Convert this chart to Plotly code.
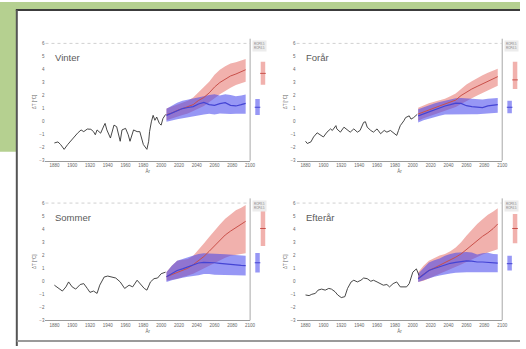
import plotly.graph_objects as go

W, H = 526, 349

# ---------------- data ----------------
seasons = ["Vinter", "Forår", "Sommer", "Efterår"]
x_ticks = [1880, 1900, 1920, 1940, 1960, 1980, 2000, 2020, 2040, 2060, 2080, 2100]
y_ticks = [-3, -2, -1, 0, 1, 2, 3, 4, 5, 6]

hist_years_vinter = [1880, 1884, 1887, 1891, 1895, 1898, 1902, 1906, 1910, 1913, 1917, 1921,
                     1924, 1926, 1928, 1932, 1936, 1937, 1939, 1943, 1947, 1950, 1954, 1956,
                     1960, 1963, 1965, 1969, 1973, 1976, 1980, 1984, 1986, 1987, 1989, 1991,
                     1993, 1995, 1998, 2000, 2002, 2005]
hist_vinter = [-1.64, -1.56, -1.76, -2.13, -1.76, -1.51, -1.26, -0.89, -0.64, -0.77, -0.57, -0.59,
               -0.77, -1.01, -0.64, -0.89, -0.27, -0.14, -0.64, -1.26, -0.27, -0.39, -1.51, -0.64,
               -0.52, -1.01, -1.51, -0.64, -0.77, -0.77, -1.76, -2.13, -1.51, -0.77, -0.02, 0.48,
               0.10, 0.35, -0.14, -0.27, 0.23, 0.55]

hist_years_foraar = [1880, 1882, 1886, 1889, 1893, 1897, 1900, 1904, 1908, 1910, 1914, 1915,
                     1919, 1923, 1927, 1930, 1934, 1938, 1941, 1945, 1947, 1949, 1953, 1956,
                     1960, 1964, 1968, 1971, 1975, 1979, 1982, 1984, 1986, 1990, 1992, 1996,
                     1998, 2001, 2005]
hist_foraar = [-1.51, -1.68, -1.56, -1.18, -0.86, -1.01, -1.18, -0.81, -0.56, -0.68, -0.31, -0.56,
               -0.81, -0.43, -0.68, -0.81, -0.56, -0.81, -0.68, -0.06, -0.01, -0.43, -0.68, -0.81,
               -0.56, -0.93, -0.68, -0.81, -0.68, -0.93, -1.06, -0.68, -0.31, 0.06, 0.31, 0.44,
               0.19, 0.31, 0.56]

hist_years_sommer = [1880, 1885, 1889, 1893, 1896, 1900, 1904, 1909, 1913, 1917, 1920, 1924,
                     1928, 1931, 1936, 1940, 1946, 1949, 1954, 1959, 1964, 1968, 1973, 1976,
                     1981, 1984, 1988, 1992, 1996, 2000, 2005]
hist_sommer = [-0.30, -0.55, -0.75, -0.43, -0.05, -0.43, -0.60, -0.25, -0.18, -0.55, -0.85, -0.75,
               -0.93, -0.30, 0.33, 0.40, 0.33, 0.25, -0.05, -0.55, -0.30, -0.43, 0.08, -0.18,
               -0.55, -0.68, -0.05, 0.20, 0.25, 0.58, 0.70]

hist_years_efteraar = [1880, 1884, 1887, 1891, 1894, 1898, 1902, 1906, 1909, 1913, 1916, 1920,
                       1924, 1927, 1931, 1934, 1938, 1942, 1945, 1949, 1953, 1956, 1960, 1964,
                       1967, 1971, 1974, 1978, 1982, 1986, 1989, 1993, 1996, 2000, 2004, 2007]
hist_efteraar = [-1.05, -1.10, -1.00, -0.93, -0.68, -0.60, -0.68, -0.55, -0.60, -0.80, -1.05, -1.25,
                 -1.18, -0.55, -0.05, 0.08, -0.05, 0.08, 0.25, 0.20, 0.00, 0.08, -0.05, -0.18,
                 -0.30, -0.25, -0.43, -0.18, -0.05, -0.43, -0.43, -0.43, -0.18, 0.70, 0.95, 0.45]

proj_years = [2006, 2012, 2018, 2024, 2030, 2036, 2042, 2048, 2054, 2060, 2066, 2072, 2078, 2084, 2090, 2095]

# Vinter
red_mid_vinter = [0.53, 0.66, 0.85, 1.00, 1.10, 1.30, 1.62, 1.85, 2.20, 2.65, 3.00, 3.25, 3.50, 3.65, 3.82, 3.98]
red_hi_vinter = [1.00, 1.15, 1.35, 1.50, 1.60, 1.85, 2.25, 2.60, 3.05, 3.60, 3.98, 4.25, 4.45, 4.55, 4.68, 4.80]
red_lo_vinter = [0.10, 0.25, 0.38, 0.50, 0.62, 0.80, 1.00, 1.20, 1.50, 1.80, 2.10, 2.38, 2.60, 2.80, 2.95, 3.05]
blue_mid_vinter = [0.48, 0.65, 0.82, 1.00, 1.08, 1.15, 1.35, 1.47, 1.30, 1.25, 1.38, 1.45, 1.25, 1.20, 1.30, 1.40]
blue_hi_vinter = [0.98, 1.20, 1.45, 1.60, 1.68, 1.75, 1.85, 1.95, 2.05, 2.10, 2.00, 2.10, 2.05, 1.95, 2.00, 2.08]
blue_lo_vinter = [-0.02, 0.08, 0.18, 0.25, 0.35, 0.42, 0.48, 0.55, 0.60, 0.55, 0.62, 0.60, 0.58, 0.60, 0.62, 0.60]

# Forår
red_mid_foraar = [0.58, 0.75, 0.90, 1.05, 1.20, 1.35, 1.50, 1.65, 2.00, 2.28, 2.50, 2.70, 2.90, 3.10, 3.30, 3.45]
red_hi_foraar = [1.06, 1.25, 1.40, 1.52, 1.62, 1.75, 1.95, 2.15, 2.50, 2.85, 3.10, 3.35, 3.55, 3.75, 3.92, 4.05]
red_lo_foraar = [0.06, 0.25, 0.40, 0.55, 0.70, 0.85, 0.98, 1.12, 1.35, 1.55, 1.80, 2.00, 2.20, 2.40, 2.60, 2.75]
blue_mid_foraar = [0.44, 0.60, 0.72, 0.88, 1.05, 1.20, 1.30, 1.42, 1.40, 1.22, 1.15, 1.12, 1.08, 1.20, 1.25, 1.30]
blue_hi_foraar = [0.94, 1.10, 1.25, 1.38, 1.50, 1.60, 1.72, 1.80, 1.82, 1.80, 1.78, 1.72, 1.70, 1.75, 1.80, 1.82]
blue_lo_foraar = [-0.06, 0.10, 0.25, 0.35, 0.45, 0.55, 0.56, 0.56, 0.56, 0.55, 0.56, 0.56, 0.56, 0.60, 0.65, 0.68]

# Sommer
red_mid_sommer = [0.35, 0.52, 0.70, 0.82, 1.00, 1.27, 1.57, 1.90, 2.30, 2.72, 3.10, 3.55, 3.85, 4.10, 4.35, 4.60]
red_hi_sommer = [0.72, 1.20, 1.58, 1.62, 1.70, 1.95, 2.40, 2.90, 3.40, 3.90, 4.35, 4.80, 5.10, 5.45, 5.65, 5.85]
red_lo_sommer = [0.05, 0.12, 0.20, 0.30, 0.45, 0.58, 0.75, 0.95, 1.15, 1.38, 1.60, 1.80, 1.95, 2.05, 2.10, 2.15]
blue_mid_sommer = [0.35, 0.60, 0.83, 0.95, 1.10, 1.25, 1.40, 1.45, 1.45, 1.42, 1.38, 1.33, 1.30, 1.25, 1.22, 1.20]
blue_hi_sommer = [0.70, 1.20, 1.58, 1.72, 1.85, 1.98, 2.10, 2.15, 2.12, 2.08, 2.10, 2.08, 2.05, 2.00, 1.98, 1.95]
blue_lo_sommer = [-0.05, 0.08, 0.20, 0.28, 0.35, 0.42, 0.46, 0.55, 0.55, 0.50, 0.48, 0.45, 0.45, 0.45, 0.45, 0.45]

# Efterår
red_mid_efteraar = [0.25, 0.55, 0.83, 1.02, 1.22, 1.42, 1.65, 1.85, 2.10, 2.45, 2.80, 3.15, 3.45, 3.72, 4.05, 4.40]
red_hi_efteraar = [0.70, 1.20, 1.58, 1.78, 1.97, 2.10, 2.30, 2.60, 3.00, 3.50, 3.95, 4.40, 4.75, 5.10, 5.35, 5.60]
red_lo_efteraar = [-0.05, 0.05, 0.20, 0.38, 0.58, 0.75, 0.92, 1.10, 1.28, 1.48, 1.68, 1.88, 2.05, 2.20, 2.35, 2.45]
blue_mid_efteraar = [0.20, 0.55, 0.83, 0.98, 1.12, 1.28, 1.38, 1.45, 1.52, 1.56, 1.55, 1.48, 1.48, 1.45, 1.42, 1.40]
blue_hi_efteraar = [0.58, 1.05, 1.45, 1.62, 1.75, 1.95, 2.10, 2.18, 2.22, 2.25, 2.20, 2.05, 2.15, 2.18, 2.10, 2.08]
blue_lo_efteraar = [-0.05, 0.08, 0.20, 0.35, 0.45, 0.55, 0.60, 0.65, 0.70, 0.70, 0.70, 0.68, 0.70, 0.70, 0.72, 0.70]

# end-of-century ranges in side panels: [low, mid, high]
side_red = [[2.82, 3.70, 4.60], [2.50, 3.20, 4.60], [2.70, 4.05, 5.70], [2.92, 4.05, 5.17]]
side_blue = [[0.50, 1.10, 1.74], [0.65, 1.10, 1.60], [0.67, 1.42, 2.17], [0.83, 1.35, 1.95]]

hist_years = [hist_years_vinter, hist_years_foraar, hist_years_sommer, hist_years_efteraar]
hist_vals = [hist_vinter, hist_foraar, hist_sommer, hist_efteraar]
red_mid = [red_mid_vinter, red_mid_foraar, red_mid_sommer, red_mid_efteraar]
red_hi = [red_hi_vinter, red_hi_foraar, red_hi_sommer, red_hi_efteraar]
red_lo = [red_lo_vinter, red_lo_foraar, red_lo_sommer, red_lo_efteraar]
blue_mid = [blue_mid_vinter, blue_mid_foraar, blue_mid_sommer, blue_mid_efteraar]
blue_hi = [blue_hi_vinter, blue_hi_foraar, blue_hi_sommer, blue_hi_efteraar]
blue_lo = [blue_lo_vinter, blue_lo_foraar, blue_lo_sommer, blue_lo_efteraar]

# ---------------- layout helpers ----------------
def px(x):
    return x / W

def py(y):
    return 1 - y / H

def ax_id(letter, n):
    return letter if n == 1 else f"{letter}{n}"

def ax_key(letter, n):
    return f"{letter}axis" if n == 1 else f"{letter}axis{n}"

# pixel boxes: (main x0, main x1, side x1, y top, y bottom)
boxes = [(46, 253, 292, 42, 161), (300, 508, 526, 42, 161),
         (46, 253, 292, 204, 323), (300, 508, 526, 204, 323)]

RED_FILL = "rgba(228,100,92,0.5)"
BLUE_FILL = "rgba(66,66,236,0.55)"
RED_LINE = "#c9504a"
BLUE_LINE = "#4444d4"
FONT = "Liberation Sans"

fig = go.Figure()
layout = dict(
    width=W, height=H, margin=dict(l=0, r=0, t=0, b=0),
    paper_bgcolor="white", plot_bgcolor="rgba(0,0,0,0)",
    showlegend=False, font=dict(family=FONT, color="#777"),
)
shapes = [
    dict(type="rect", xref="paper", yref="paper", x0=0, x1=1, y0=py(7), y1=1,
         fillcolor="#b5d090", line=dict(width=0), layer="below"),
    dict(type="rect", xref="paper", yref="paper", x0=0, x1=px(17), y0=py(152), y1=1,
         fillcolor="#b5d090", line=dict(width=0), layer="below"),
    dict(type="line", xref="paper", yref="paper", x0=px(16), x1=1, y0=py(8), y1=py(8),
         line=dict(color="#3c3c3c", width=2)),
    dict(type="line", xref="paper", yref="paper", x0=px(17), x1=px(17), y0=py(8), y1=0,
         line=dict(color="#555555", width=2)),
    dict(type="line", xref="paper", yref="paper", x0=px(17), x1=1, y0=py(344), y1=py(344),
         line=dict(color="#9a9a9a", width=2)),
]
annotations = []

for i in range(4):
    n = i + 1
    sn = i + 5
    mx0, mx1, sx1, yt, yb = boxes[i]
    xa, ya, xs = ax_id("x", n), ax_id("y", n), ax_id("x", sn)
    layout[ax_key("x", n)] = dict(
        domain=[px(mx0), px(mx1)], anchor=ya, range=[1870, 2100],
        tickvals=x_ticks, ticktext=[str(t) for t in x_ticks],
        tickfont=dict(size=4.5, color="#666"), ticks="", ticklen=0,
        showline=True, linecolor="#9a9a9a", linewidth=1, showgrid=False, zeroline=False,
        title=dict(text="År", font=dict(size=4.5, color="#666"), standoff=0),
    )
    layout[ax_key("y", n)] = dict(
        domain=[py(yb), py(yt)], anchor=xa, range=[-3, 6],
        tickvals=y_ticks, tickfont=dict(size=4.5, color="#666"), ticks="",
        showline=False, showgrid=False, zeroline=False,
        title=dict(text="ΔT [°C]", font=dict(size=4.5, color="#666"), standoff=2),
    )
    side_w = sx1 - mx1
    layout[ax_key("x", sn)] = dict(
        domain=[px(mx1), px(sx1)], anchor=ya, range=[0, side_w],
        visible=False, showgrid=False, zeroline=False,
    )
    # divider and top frame line
    shapes.append(dict(type="line", xref=f"{xa} domain", yref=f"{ya} domain",
                       x0=1, x1=1, y0=0, y1=1.04, line=dict(color="#a8a8a8", width=1)))
    shapes.append(dict(type="line", xref=f"{xa} domain", yref=f"{ya} domain",
                       x0=0, x1=1, y0=1, y1=1, line=dict(color="#d0d0d0", width=1, dash="dot")))

    P = proj_years
    fig.add_trace(go.Scatter(x=P + P[::-1], y=red_hi[i] + red_lo[i][::-1], fill="toself",
                             fillcolor=RED_FILL, line=dict(width=0), mode="lines",
                             xaxis=xa, yaxis=ya, hoverinfo="skip"))
    fig.add_trace(go.Scatter(x=P + P[::-1], y=blue_hi[i] + blue_lo[i][::-1], fill="toself",
                             fillcolor=BLUE_FILL, line=dict(width=0), mode="lines",
                             xaxis=xa, yaxis=ya, hoverinfo="skip"))
    fig.add_trace(go.Scatter(x=P, y=red_mid[i], mode="lines",
                             line=dict(color=RED_LINE, width=1), xaxis=xa, yaxis=ya))
    fig.add_trace(go.Scatter(x=P, y=blue_mid[i], mode="lines",
                             line=dict(color=BLUE_LINE, width=1.2), xaxis=xa, yaxis=ya))
    fig.add_trace(go.Scatter(x=hist_years[i], y=hist_vals[i], mode="lines",
                             line=dict(color="#333333", width=0.9), xaxis=xa, yaxis=ya))

    # side panel ranges
    rlo, rmid, rhi = side_red[i]
    blo, bmid, bhi = side_blue[i]
    fig.add_trace(go.Scatter(x=[13, 13], y=[rlo, rhi], mode="lines",
                             line=dict(color="rgba(228,100,92,0.5)", width=4.5), xaxis=xs, yaxis=ya))
    fig.add_trace(go.Scatter(x=[13], y=[rmid], mode="markers",
                             marker=dict(symbol="line-ew", size=4, line=dict(color=RED_LINE, width=1)),
                             xaxis=xs, yaxis=ya))
    fig.add_trace(go.Scatter(x=[7.5, 7.5], y=[blo, bhi], mode="lines",
                             line=dict(color="rgba(66,66,236,0.55)", width=4.5), xaxis=xs, yaxis=ya))
    fig.add_trace(go.Scatter(x=[7.5], y=[bmid], mode="markers",
                             marker=dict(symbol="line-ew", size=4, line=dict(color=BLUE_LINE, width=1)),
                             xaxis=xs, yaxis=ya))

    annotations.append(dict(xref=f"{xa} domain", yref=f"{ya} domain", x=0.035, y=0.88,
                            text=seasons[i], showarrow=False, xanchor="left", yanchor="middle",
                            font=dict(family=FONT, size=9.5, color="#5a5a5a")))
    annotations.append(dict(xref="paper", yref="paper", x=px(mx1 + 2), y=py(yt - 3),
                            text="RCP8.5<br>RCP4.5", showarrow=False, xanchor="left", yanchor="top",
                            align="left", font=dict(family=FONT, size=3, color="#888"),
                            bgcolor="#ececec"))

layout["shapes"] = shapes
layout["annotations"] = annotations
fig.update_layout(**layout)
fig.write_html("out.html", config={"displayModeBar": False},
               post_script="document.body.style.margin='0';")
